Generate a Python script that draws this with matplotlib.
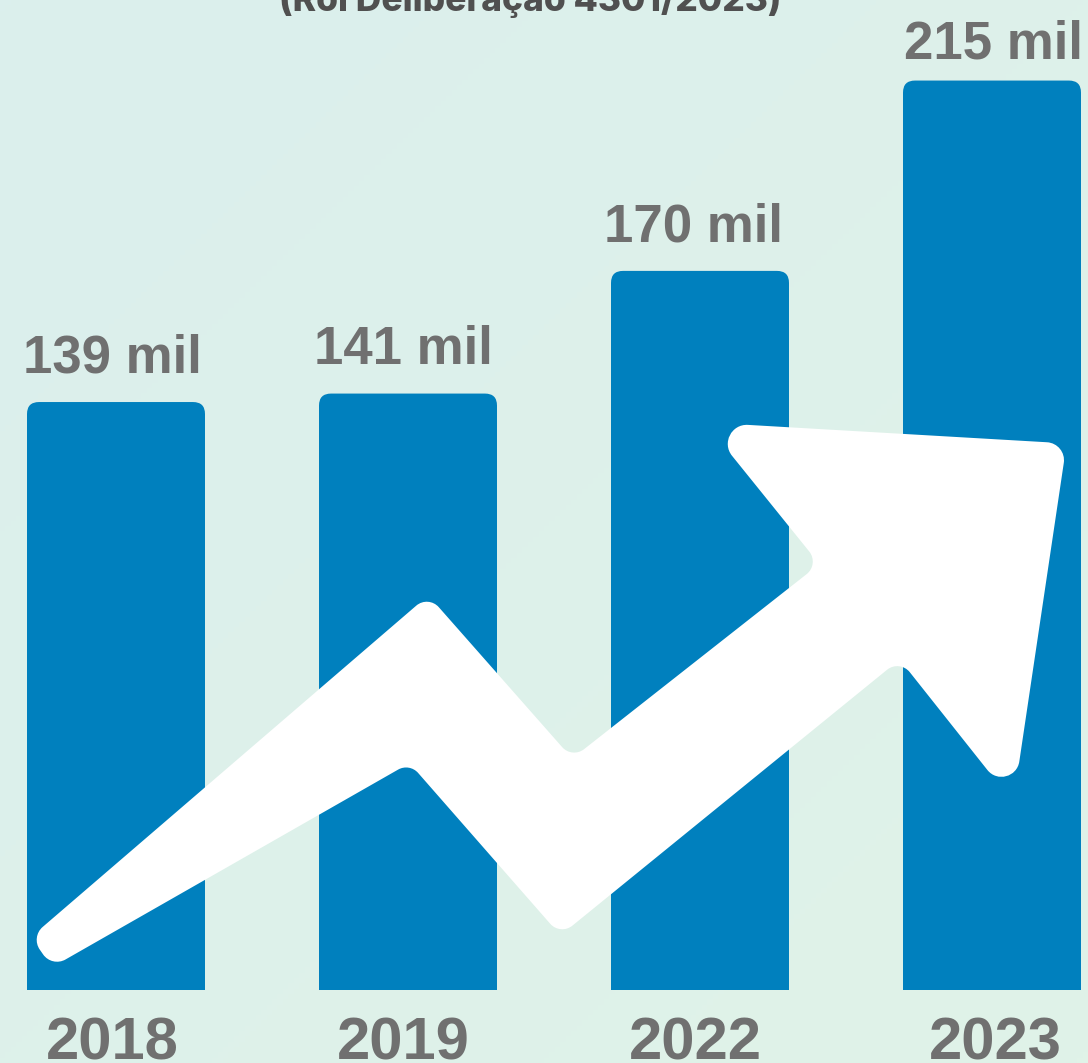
import numpy as np
import matplotlib
matplotlib.use("Agg")
import matplotlib.pyplot as plt
from matplotlib.patches import FancyBboxPatch, PathPatch
from matplotlib.path import Path
from matplotlib.colors import LinearSegmentedColormap

# ---- data ----
years = ["2018", "2019", "2022", "2023"]
values = [139, 141, 170, 215]
value_labels = ["139 mil", "141 mil", "170 mil", "215 mil"]
title = "(Rol Deliberação 4301/2023)"

W, H = 1088, 1063
fig = plt.figure(figsize=(W / 100, H / 100), dpi=100)

# background gradient
bg = fig.add_axes([0, 0, 1, 1])
bg.set_axis_off()
cmap = LinearSegmentedColormap.from_list("bg", ["#dbefed", "#e0f3e8"])
gx, gy = np.meshgrid(np.linspace(0, 1, 200), np.linspace(0, 1, 200))
bg.imshow((gx + gy) / 2, cmap=cmap, aspect="auto", extent=[0, 1, 0, 1], origin="upper")
bg.set_xlim(0, 1); bg.set_ylim(0, 1)

ax = fig.add_axes([0, 0, 1, 1])
ax.set_facecolor("none")
ax.set_axis_off()

spacing_px = 292.0
first_center_px = 116.0
baseline_px = 990.0
px_per_unit = 4.23
ax.set_xlim(-first_center_px / spacing_px, (W - first_center_px) / spacing_px)
ax.set_ylim(-(H - baseline_px) / px_per_unit, baseline_px / px_per_unit)

x = np.arange(len(years))
bar_color = "#0080be"
bars = ax.bar(x, values, width=178 / spacing_px, color=bar_color, linewidth=0, zorder=2)

# rounded top corners
r_px = 12
r_x = r_px / spacing_px
aspect = spacing_px / px_per_unit
for b in bars:
    bx, by, bw, bh = b.get_x(), b.get_y(), b.get_width(), b.get_height()
    fp = FancyBboxPatch((bx, by), bw, bh,
                        boxstyle=f"round,pad=0,rounding_size={r_x}",
                        mutation_aspect=aspect, facecolor=bar_color,
                        edgecolor="none", zorder=2)
    ax.add_patch(fp)
    b.set_height(bh * 0.5)

# value labels
label_color = "#707070"
offsets = [30, 30, 29, 22]
dx = [-4, -5, -6, 2]
for i, (xi, v, lab) in enumerate(zip(x, values, value_labels)):
    ax.annotate(lab, (xi, v), xytext=(dx[i] * 0.72, offsets[i] * 0.72),
                textcoords="offset points", ha="center", va="baseline",
                fontsize=38, fontweight="bold", color=label_color,
                family="Liberation Sans", zorder=5)

# year labels
year_dx = [-4, -5, -5, 3]
for i, (xi, yr) in enumerate(zip(x, years)):
    ax.annotate(yr, (xi, 0), xytext=(year_dx[i] * 0.72, -70 * 0.72),
                textcoords="offset points", ha="center", va="baseline",
                fontsize=43, fontweight="bold", color=label_color,
                family="Liberation Sans", zorder=5)

# decorative zigzag arrow, outline corners in image pixel space, rounded
arrow_px = np.array([
    (31, 937), (428.3, 595.3), (572.2, 758.5), (819.4, 564.1), (705.1, 422.4),
    (1066.7, 443.4), (1013.2, 802.5), (899.7, 659.5), (560.4, 935.4),
    (409.5, 763.1), (52.0, 967.2)], dtype=float)
corner_r = [17, 16, 16, 16, 19, 18, 18, 16, 16, 16, 17]


def rounded_path(pts, radii):
    n = len(pts)
    verts, codes = [], []
    for i in range(n):
        P, V, N = pts[i - 1], pts[i], pts[(i + 1) % n]
        R = radii[i]
        u = (P - V) / np.linalg.norm(P - V)
        w = (N - V) / np.linalg.norm(N - V)
        th = np.arccos(np.clip(np.dot(u, w), -1, 1))
        d = R / np.tan(th / 2)
        d = min(d, 0.49 * np.linalg.norm(P - V), 0.49 * np.linalg.norm(N - V))
        rad = d * np.tan(th / 2)
        alpha = np.pi - th
        h = 4 / 3 * np.tan(alpha / 4) * rad
        A = V + d * u
        B = V + d * w
        C1 = A - h * u
        C2 = B - h * w
        verts.append(A); codes.append(Path.MOVETO if i == 0 else Path.LINETO)
        verts += [C1, C2, B]; codes += [Path.CURVE4] * 3
    verts.append(verts[0]); codes.append(Path.LINETO)
    verts.append(verts[0]); codes.append(Path.CLOSEPOLY)
    return np.array(verts), codes


rv, rc = rounded_path(arrow_px, corner_r)
rv_frac = np.column_stack([rv[:, 0] / W, 1 - rv[:, 1] / H])
ax.add_patch(PathPatch(Path(rv_frac, rc), transform=ax.transAxes,
                       facecolor="white", edgecolor="none", zorder=4))

# title (partly cut off at the top)
fig.text(530 / W, 1 - 11 / H, title, ha="center", va="baseline",
         fontsize=25.5, fontweight="heavy", color="#505050", family="Inter")

fig.savefig("out.png", dpi=100)
